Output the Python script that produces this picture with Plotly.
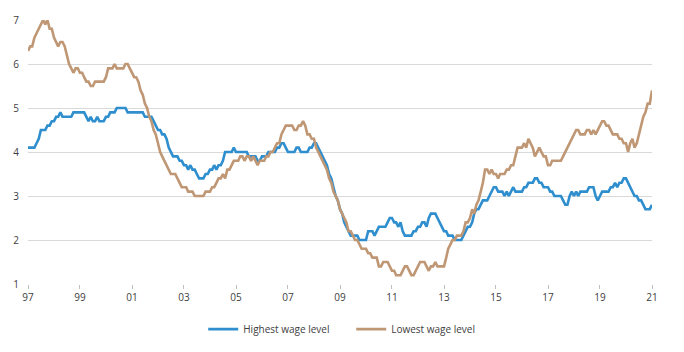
import pandas as pd
import plotly.graph_objects as go

# Monthly data, Jan 1997 .. Jan 2021
start_month = "1997-01-01"
highest_wage = [
    4.1, 4.1, 4.1, 4.1, 4.2, 4.3, 4.5, 4.5, 4.5, 4.6, 4.6, 4.7,  # 1997
    4.7, 4.8, 4.8, 4.9, 4.8, 4.8, 4.8, 4.8, 4.8, 4.9, 4.9, 4.9,  # 1998
    4.9, 4.9, 4.9, 4.8, 4.7, 4.8, 4.7, 4.7, 4.8, 4.7, 4.7, 4.7,  # 1999
    4.8, 4.8, 4.9, 4.9, 4.9, 5.0, 5.0, 5.0, 5.0, 5.0, 4.9, 4.9,  # 2000
    4.9, 4.9, 4.9, 4.9, 4.9, 4.9, 4.8, 4.8, 4.8, 4.8, 4.7, 4.6,  # 2001
    4.5, 4.5, 4.4, 4.4, 4.3, 4.1, 4.0, 3.9, 3.9, 3.9, 3.8, 3.8,  # 2002
    3.7, 3.7, 3.6, 3.7, 3.6, 3.6, 3.5, 3.4, 3.4, 3.4, 3.5, 3.5,  # 2003
    3.6, 3.6, 3.7, 3.6, 3.7, 3.7, 3.8, 4.0, 4.0, 4.0, 4.0, 4.1,  # 2004
    4.0, 4.0, 4.0, 4.0, 4.0, 4.0, 3.9, 3.9, 3.9, 3.9, 3.8, 3.8,  # 2005
    3.9, 3.9, 3.9, 4.0, 4.0, 4.0, 4.0, 4.1, 4.1, 4.2, 4.2, 4.1,  # 2006
    4.0, 4.0, 4.0, 4.0, 4.1, 4.1, 4.0, 4.0, 4.0, 4.0, 4.1, 4.1,  # 2007
    4.2, 4.2, 4.1, 4.0, 3.9, 3.8, 3.7, 3.5, 3.4, 3.2, 3.0, 2.9,  # 2008
    2.7, 2.6, 2.4, 2.3, 2.2, 2.1, 2.1, 2.1, 2.1, 2.0, 2.0, 2.0,  # 2009
    2.0, 2.2, 2.2, 2.2, 2.1, 2.2, 2.3, 2.3, 2.3, 2.3, 2.4, 2.5,  # 2010
    2.5, 2.4, 2.4, 2.3, 2.4, 2.2, 2.1, 2.1, 2.1, 2.1, 2.2, 2.2,  # 2011
    2.3, 2.3, 2.4, 2.4, 2.3, 2.5, 2.6, 2.6, 2.6, 2.5, 2.4, 2.3,  # 2012
    2.2, 2.2, 2.1, 2.1, 2.1, 2.0, 2.0, 2.0, 2.0, 2.1, 2.2, 2.3,  # 2013
    2.3, 2.4, 2.6, 2.7, 2.7, 2.8, 2.9, 2.9, 2.9, 3.0, 3.1, 3.2,  # 2014
    3.2, 3.1, 3.1, 3.1, 3.0, 3.1, 3.0, 3.1, 3.2, 3.1, 3.1, 3.1,  # 2015
    3.1, 3.2, 3.2, 3.3, 3.3, 3.3, 3.4, 3.4, 3.3, 3.3, 3.2, 3.2,  # 2016
    3.2, 3.1, 3.1, 3.0, 3.0, 3.0, 3.0, 2.9, 2.8, 2.8, 3.0, 3.1,  # 2017
    3.0, 3.1, 3.0, 3.1, 3.1, 3.1, 3.1, 3.2, 3.2, 3.2, 3.0, 2.9,  # 2018
    3.0, 3.1, 3.1, 3.1, 3.1, 3.2, 3.2, 3.3, 3.2, 3.3, 3.3, 3.4,  # 2019
    3.4, 3.3, 3.2, 3.1, 3.0, 3.0, 2.9, 2.9, 2.8, 2.7, 2.7, 2.7,  # 2020
    2.8,                                                         # 2021
]
lowest_wage = [
    6.3, 6.4, 6.4, 6.6, 6.7, 6.8, 6.9, 7.0, 6.9, 7.0, 6.8, 6.8,  # 1997
    6.6, 6.5, 6.4, 6.5, 6.5, 6.4, 6.2, 6.0, 5.9, 5.8, 5.9, 5.9,  # 1998
    5.8, 5.8, 5.7, 5.6, 5.6, 5.5, 5.5, 5.6, 5.6, 5.6, 5.6, 5.6,  # 1999
    5.7, 5.9, 5.9, 5.9, 6.0, 5.9, 5.9, 5.9, 5.9, 6.0, 6.0, 5.9,  # 2000
    5.8, 5.7, 5.7, 5.6, 5.4, 5.3, 5.1, 5.0, 4.8, 4.7, 4.5, 4.4,  # 2001
    4.2, 4.0, 3.9, 3.8, 3.7, 3.6, 3.5, 3.5, 3.5, 3.4, 3.3, 3.2,  # 2002
    3.2, 3.2, 3.1, 3.1, 3.1, 3.0, 3.0, 3.0, 3.0, 3.0, 3.1, 3.1,  # 2003
    3.1, 3.2, 3.2, 3.3, 3.4, 3.4, 3.5, 3.4, 3.6, 3.6, 3.7, 3.8,  # 2004
    3.8, 3.8, 3.9, 3.9, 3.8, 3.9, 3.9, 3.8, 3.9, 3.8, 3.7, 3.8,  # 2005
    3.8, 3.8, 3.9, 3.9, 4.0, 4.0, 4.1, 4.2, 4.2, 4.4, 4.5, 4.6,  # 2006
    4.6, 4.6, 4.6, 4.5, 4.5, 4.6, 4.6, 4.7, 4.6, 4.4, 4.4, 4.3,  # 2007
    4.3, 4.1, 4.0, 3.9, 3.8, 3.7, 3.6, 3.4, 3.3, 3.1, 3.0, 2.9,  # 2008
    2.7, 2.6, 2.5, 2.4, 2.2, 2.2, 2.1, 2.0, 2.0, 1.9, 1.8, 1.8,  # 2009
    1.8, 1.7, 1.7, 1.6, 1.6, 1.6, 1.4, 1.4, 1.5, 1.5, 1.5, 1.4,  # 2010
    1.3, 1.3, 1.2, 1.2, 1.2, 1.3, 1.4, 1.4, 1.3, 1.2, 1.2, 1.3,  # 2011
    1.4, 1.5, 1.5, 1.5, 1.4, 1.3, 1.4, 1.4, 1.5, 1.4, 1.4, 1.4,  # 2012
    1.4, 1.6, 1.8, 1.9, 2.0, 2.0, 2.1, 2.1, 2.1, 2.2, 2.4, 2.4,  # 2013
    2.5, 2.7, 2.6, 2.8, 2.9, 3.1, 3.3, 3.6, 3.6, 3.5, 3.6, 3.5,  # 2014
    3.5, 3.4, 3.5, 3.5, 3.5, 3.6, 3.6, 3.7, 3.7, 3.9, 4.1, 4.1,  # 2015
    4.1, 4.2, 4.1, 4.3, 4.2, 4.1, 3.9, 4.0, 4.1, 4.0, 3.9, 3.9,  # 2016
    3.7, 3.7, 3.8, 3.8, 3.8, 3.8, 3.8, 3.9, 4.0, 4.1, 4.2, 4.3,  # 2017
    4.4, 4.5, 4.5, 4.4, 4.4, 4.4, 4.5, 4.5, 4.4, 4.5, 4.4, 4.5,  # 2018
    4.6, 4.7, 4.7, 4.6, 4.6, 4.5, 4.4, 4.4, 4.4, 4.3, 4.3, 4.2,  # 2019
    4.2, 4.0, 4.2, 4.3, 4.1, 4.2, 4.4, 4.6, 4.8, 4.9, 5.1, 5.1,  # 2020
    5.4,                                                         # 2021
]
series_names = ["Highest wage level", "Lowest wage level"]
series_colors = ["#2E8ECE", "#BF9774"]
y_ticks = [1, 2, 3, 4, 5, 6, 7]

months = pd.date_range(start_month, periods=len(highest_wage), freq="MS")

fig = go.Figure()
for name, vals, col in zip(series_names, [highest_wage, lowest_wage], series_colors):
    fig.add_trace(go.Scatter(x=months, y=vals, mode="lines", name=name,
                             line=dict(color=col, width=2.6)))

fig.update_layout(
    width=684, height=352,
    margin=dict(l=28, r=32, t=20, b=68, autoexpand=False),
    paper_bgcolor="white", plot_bgcolor="white",
    font=dict(family="Open Sans, Arial, sans-serif", size=10, color="#404040"),
    showlegend=True,
    legend=dict(orientation="h", x=0.518, xanchor="center", yref="container",
                y=0.065, yanchor="middle", entrywidth=103,
                font=dict(size=10, color="#404040")),
    xaxis=dict(range=[months[0], months[-1]], tick0=start_month, dtick="M24",
               tickformat="%y", showgrid=False, zeroline=False,
               showline=False, ticks="outside", ticklen=4, tickcolor="#BFBFBF",
               tickfont=dict(size=10, color="#404040")),
    yaxis=dict(range=[1, 7], tickvals=y_ticks, showgrid=True, gridcolor="#D9D9D9",
               gridwidth=1.3, zeroline=False, showline=False,
               tickfont=dict(size=10, color="#404040"), ticklabelstandoff=8),
)

fig.write_html("out.html")
